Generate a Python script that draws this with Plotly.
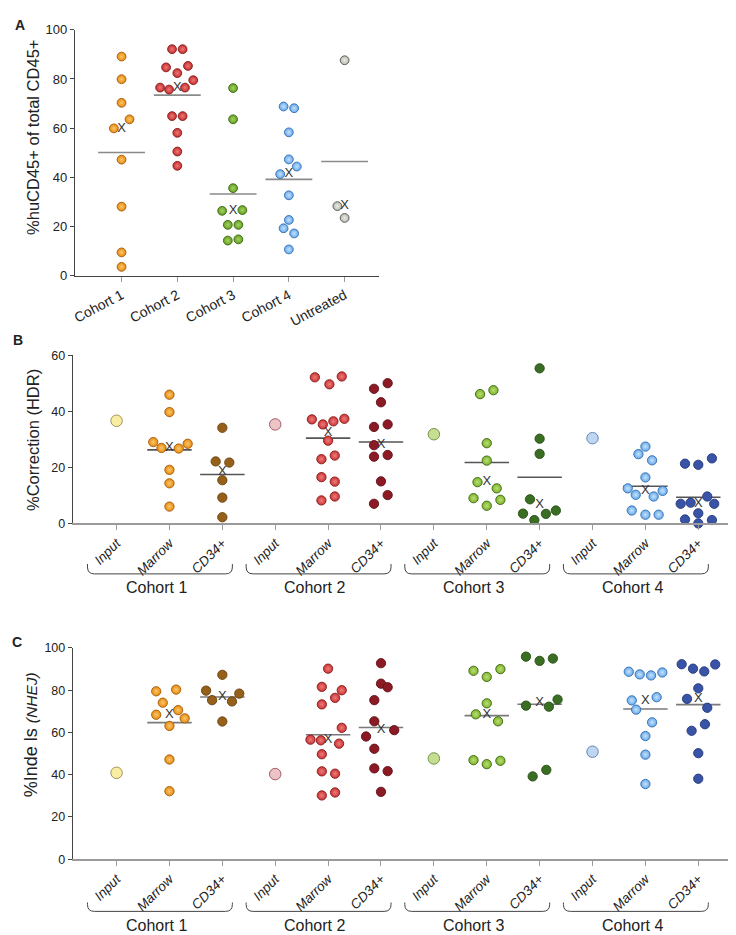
import numpy as np
import plotly.graph_objects as go

W, H = 736, 935
FONT = "Liberation Sans, Arial, sans-serif"

# ---------------- Panel A data ----------------
a_categories = ["Cohort 1", "Cohort 2", "Cohort 3", "Cohort 4", "Untreated"]
a_cohort1 = [89.1, 79.9, 70.3, 63.6, 59.9, 47.2, 28.1, 9.5, 3.6]
a_cohort2 = [92.1, 92.1, 84.7, 85.3, 82.4, 79.5, 76.5, 75.7, 76.5, 64.9, 64.9, 58.1, 50.5, 44.7]
a_cohort3 = [76.3, 63.6, 35.6, 26.4, 26.7, 20.7, 20.7, 14.3, 14.8]
a_cohort4 = [68.8, 68.1, 58.3, 47.3, 44.4, 41.3, 32.7, 22.7, 19.3, 17.2, 10.7]
a_untreated = [87.6, 28.3, 23.5]
a_yticks = [0, 20, 40, 60, 80, 100]

# ---------------- Panel B / C shared labels ----------------
sub_labels = ["Input", "Marrow", "CD34+"]
cohort_labels = ["Cohort 1", "Cohort 2", "Cohort 3", "Cohort 4"]

# ---------------- Panel B data (%Correction HDR) ----------------
hdr_input = [36.6, 35.3, 31.8, 30.4]
hdr_marrow_c1 = [45.9, 39.7, 29.0, 28.4, 26.9, 26.7, 19.1, 14.3, 6.0]
hdr_cd34_c1 = [34.1, 22.1, 21.7, 15.4, 9.2, 2.2]
hdr_marrow_c2 = [52.1, 49.6, 52.4, 37.1, 35.3, 36.4, 37.3, 29.5, 22.9, 24.2, 16.5, 14.9, 8.2, 9.6]
hdr_cd34_c2 = [48.0, 50.0, 43.2, 34.4, 35.3, 27.9, 24.4, 23.8, 15.0, 10.1, 7.0]
hdr_marrow_c3 = [46.1, 47.5, 28.6, 22.4, 14.7, 12.5, 9.0, 8.4, 6.3]
hdr_cd34_c3 = [55.3, 30.2, 24.8, 8.6, 3.5, 3.4, 4.6, 1.2]
hdr_marrow_c4 = [27.4, 24.7, 22.5, 16.4, 12.5, 11.6, 10.2, 9.6, 4.6, 3.1, 3.1]
hdr_cd34_c4 = [21.3, 20.9, 23.2, 9.6, 7.0, 7.4, 7.0, 3.6, 1.4, 1.2, 0.0]
b_yticks = [0, 20, 40, 60]

# ---------------- Panel C data (%Indels NHEJ) ----------------
nhej_input = [40.9, 40.3, 47.7, 50.9]
nhej_marrow_c1 = [79.5, 80.3, 74.1, 68.4, 70.6, 66.7, 63.1, 47.2, 32.2]
nhej_cd34_c1 = [87.3, 79.8, 78.4, 75.3, 74.7, 65.2]
nhej_marrow_c2 = [90.2, 81.6, 80.0, 76.4, 73.3, 62.2, 56.6, 56.3, 54.7, 49.7, 41.6, 40.5, 30.2, 31.6]
nhej_cd34_c2 = [92.8, 83.1, 81.4, 75.3, 65.3, 61.1, 58.1, 52.3, 43.0, 41.7, 31.9]
nhej_marrow_c3 = [89.2, 90.0, 86.3, 73.8, 68.6, 65.3, 46.9, 45.0, 46.6]
nhej_cd34_c3 = [95.9, 93.9, 95.0, 75.6, 72.7, 72.2, 39.2, 42.3]
nhej_marrow_c4 = [88.75, 87.5, 87.0, 88.4, 75.2, 76.7, 70.8, 64.8, 58.3, 49.5, 35.6]
nhej_cd34_c4 = [92.3, 90.2, 88.9, 92.2, 80.9, 75.9, 71.7, 63.9, 60.8, 50.2, 38.1]
c_yticks = [0, 20, 40, 60, 80, 100]

# ---------------- beeswarm horizontal offsets (pixels) ----------------
JIT_A = [
    [0, 0, 0, 8, -7.7, 0, 0, 0, 0],
    [-5.3, 5.3, -11.3, 10.7, 0, 16, -17.3, -8.3, 7.7, -5.3, 5.3, 0, 0, 0],
    [0, 0, 0, -11, 9.3, -5.3, 5.3, -5.3, 5.3],
    [-5.3, 5.3, 0, 0, 8, -8.7, 0, 0, -5.3, 5.3, 0],
    [0, -7.3, 0],
]
JIT_B = {
    "m1": [0, 0, -16.3, 18.3, -8, 9.3, 0, 0, 0],
    "c1": [0, -6.7, 7, 0, 0, 0],
    "m2": [-13.3, 1.3, 13.7, -16.3, -5.3, 5.3, 16.3, 0, -6.7, 6.7, -6.7, 6.7, -6.7, 6.7],
    "c2": [-7, 6.7, 0, -7, 6.7, -7, 6.7, -7, 0, 6.7, -7],
    "m3": [-6.7, 6.7, 0, 0, -9.3, 10, -13.3, 13.7, 0],
    "c3": [0, 0, 0, -9.7, -16.7, 6.3, 16.3, -5.3],
    "m4": [0, -7, 6.7, 0, -17.7, 17.3, -9.7, 8.3, -13.7, 0, 13.3],
    "c4": [-13.3, 0, 13.7, 9, -17.7, -7.7, 16, 0, -13.3, 13.7, 0],
}
JIT_C = {
    "m1": [-13.3, 6.7, -6.7, -13.3, 8.7, 15.3, 0, 0, 0],
    "c1": [0, -16.3, 17, -10.3, 9.7, 0],
    "m2": [0, -6.3, 13.7, 7, -6.3, 13.7, -17.7, -7.3, 11, -6.3, -6.3, 7, -6.3, 7],
    "c2": [0, 0, 6.7, -6.7, -6.7, 13.3, -15, -6.7, -6.7, 6.7, 0],
    "m3": [-13.3, 13.7, 0, 0, -11, 11.3, -13.3, 0, 13.7],
    "c3": [-13.7, 0, 13.3, 18, -13.7, 9.3, -7, 6.7],
    "m4": [-16.7, -5.7, 5.7, 17, -13.7, 11.3, -9.3, 6.7, 0, 0, 0],
    "c4": [-16.7, -5.3, 6, 17, 0, -11.3, 9, 6.7, -6.7, 0, 0],
}

# ---------------- styles ----------------
A_STYLE = [  # fill (rim), edge, centre (radial highlight)
    ("#E88A10", "#A55A08", "#FAC86A"),
    ("#C82E2E", "#861A1A", "#EC7878"),
    ("#62A022", "#3A6610", "#A8D262"),
    ("#6AA8E8", "#2E6DB4", "#C2E2FC"),
    ("#B6BAAD", "#555555", "#ECEDE6"),
]
INPUT_STYLE = [("#F8EEA2", "#9C8450"), ("#EDC4C6", "#99505A"),
               ("#C6DE92", "#6A8A3A"), ("#BED6F3", "#5A7AAA")]
MARROW_STYLE = [("#E88A10", "#A55A08", "#FAC86A"), ("#CC3434", "#861A1A", "#EE7C7C"),
                ("#7CB42C", "#3A6610", "#BCDE74"), ("#6AA8E8", "#2E6DB4", "#C4E4FC")]
CD34_STYLE = [("#966018", "#664010"), ("#8C1A24", "#601018"),
              ("#3A6E22", "#264E14"), ("#3953A6", "#24387A")]

# ---------------- geometry ----------------
A_X0, A_STEP, A_L, A_R = 111.0, 56.0, 64.0, 370.0
A_TOP, A_BOT = 15.0, 265.0
BC_X0, BC_STEP, BC_L, BC_R = 106.0, 53.1, 62.0, 735.0
B_TOP, B_BOT = 345.7, 516.7
C_TOP, C_BOT = 643.3, 858.0


def px_x(p):
    return p / W


def px_y(p):
    return 1 - p / H


fig = go.Figure()


def add_group(xa, ya, center, values, dx_px, step, fill, edge, centre=None,
              size=9.0, summary=True, line_color="#777777"):
    xs = [center + d / step for d in dx_px]
    if summary:
        m = float(np.mean(values))
        fig.add_trace(go.Scatter(
            x=[center - 0.42, center + 0.42], y=[m, m], mode="lines",
            line=dict(color=line_color, width=1.6), xaxis=xa, yaxis=ya,
            hoverinfo="skip", showlegend=False, cliponaxis=False))
    marker = dict(size=size, color=fill, line=dict(color=edge, width=0.9))
    if centre:
        marker["gradient"] = dict(type="radial", color=centre)
    fig.add_trace(go.Scatter(
        x=xs, y=values, mode="markers", marker=marker, xaxis=xa, yaxis=ya,
        showlegend=False, cliponaxis=False))
    if summary:
        med = float(np.median(values))
        fig.add_trace(go.Scatter(
            x=[center], y=[med], mode="text", text=["X"],
            textfont=dict(size=13, color="#333333", family=FONT),
            textposition="middle center", xaxis=xa, yaxis=ya,
            hoverinfo="skip", showlegend=False, cliponaxis=False))


# Panel A
a_groups = [a_cohort1, a_cohort2, a_cohort3, a_cohort4, a_untreated]
for i, vals in enumerate(a_groups):
    f, e, c = A_STYLE[i]
    add_group("x", "y", i, vals, JIT_A[i], A_STEP, f, e, c, size=8.8,
              line_color="#8a8a8a")

# Panels B and C
b_marrow = [hdr_marrow_c1, hdr_marrow_c2, hdr_marrow_c3, hdr_marrow_c4]
b_cd34 = [hdr_cd34_c1, hdr_cd34_c2, hdr_cd34_c3, hdr_cd34_c4]
c_marrow = [nhej_marrow_c1, nhej_marrow_c2, nhej_marrow_c3, nhej_marrow_c4]
c_cd34 = [nhej_cd34_c1, nhej_cd34_c2, nhej_cd34_c3, nhej_cd34_c4]

for xa, ya, inputs, marrows, cd34s, jit, lc in [
        ("x2", "y2", hdr_input, b_marrow, b_cd34, JIT_B, "#555555"),
        ("x3", "y3", nhej_input, c_marrow, c_cd34, JIT_C, "#7a7a7a")]:
    for k in range(4):
        base = 3 * k
        fi, ei = INPUT_STYLE[k]
        add_group(xa, ya, base, [inputs[k]], [0], BC_STEP, fi, ei, None,
                  size=11.5, summary=False)
        fm, em, cm = MARROW_STYLE[k]
        add_group(xa, ya, base + 1, marrows[k], jit["m%d" % (k + 1)], BC_STEP,
                  fm, em, cm, size=9.3, line_color=lc)
        fc, ec = CD34_STYLE[k]
        add_group(xa, ya, base + 2, cd34s[k], jit["c%d" % (k + 1)], BC_STEP,
                  fc, ec, None, size=9.3, line_color=lc)

# ---------------- axes ----------------
tickfont = dict(family=FONT, size=12.5, color="#222222")
catfont = dict(family=FONT, size=13.5, color="#222222")
common = dict(showgrid=False, zeroline=False, showline=True, ticks="outside",
              fixedrange=True)

a_range = [(A_L - A_X0) / A_STEP, (A_R - A_X0) / A_STEP]
bc_range = [(BC_L - BC_X0) / BC_STEP, (BC_R - BC_X0) / BC_STEP]
bc_ticktext = ["<i>%s</i>" % s for _ in range(4) for s in sub_labels]

fig.update_layout(
    width=W, height=H, margin=dict(l=0, r=0, t=0, b=0),
    paper_bgcolor="white", plot_bgcolor="white", showlegend=False,
    font=dict(family=FONT, color="#222222"),
    xaxis=dict(domain=[px_x(A_L), px_x(A_R)], range=a_range, anchor="y",
               tickvals=list(range(5)), ticktext=a_categories, tickangle=-28,
               linecolor="#444444", linewidth=1, ticklen=5, tickcolor="#999999",
               tickfont=dict(family=FONT, size=14, color="#222222"), **common),
    yaxis=dict(domain=[px_y(A_BOT), px_y(A_TOP)], range=[0, 100], anchor="x",
               tickvals=a_yticks, linecolor="#444444", linewidth=1, ticklen=4,
               tickcolor="#444444", tickfont=dict(family=FONT, size=13, color="#222222"),
               **common),
    xaxis2=dict(domain=[px_x(BC_L), px_x(BC_R)], range=bc_range, anchor="y2",
                tickvals=list(range(12)), ticktext=bc_ticktext, tickangle=-45,
                linecolor="#9a9a9a", linewidth=1.5, ticklen=5, tickcolor="#9a9a9a",
                tickfont=catfont, **common),
    yaxis2=dict(domain=[px_y(B_BOT), px_y(B_TOP)], range=[0, 60], anchor="x2",
                tickvals=b_yticks, linecolor="#444444", linewidth=1, ticklen=4,
                tickcolor="#444444", tickfont=tickfont, **common),
    xaxis3=dict(domain=[px_x(BC_L), px_x(BC_R)], range=bc_range, anchor="y3",
                tickvals=list(range(12)), ticktext=bc_ticktext, tickangle=-45,
                linecolor="#9a9a9a", linewidth=1.5, ticklen=5, tickcolor="#9a9a9a",
                tickfont=catfont, **common),
    yaxis3=dict(domain=[px_y(C_BOT), px_y(C_TOP)], range=[0, 100], anchor="x3",
                tickvals=c_yticks, linecolor="#444444", linewidth=1, ticklen=4,
                tickcolor="#444444", tickfont=tickfont, **common),
)

# ---------------- annotations ----------------
ann = []


def text_ann(txt, xp, yp, size, angle=0, bold=False, xanchor="center"):
    ann.append(dict(text=("<b>%s</b>" % txt) if bold else txt, x=px_x(xp), y=px_y(yp),
                    xref="paper", yref="paper", showarrow=False, textangle=angle,
                    xanchor=xanchor, yanchor="middle",
                    font=dict(family=FONT, size=size, color="#222222")))


text_ann("A", 9, 10, 14, bold=True)
text_ann("B", 7, 330, 14, bold=True)
text_ann("C", 6, 637, 14, bold=True)
text_ann("%huCD45+ of total CD45+", 22, 124, 16.5, angle=-90)
text_ann("%Correction (HDR)", 22, 432, 16.5, angle=-90)
ann.append(dict(text="%Inde ls <span style='font-size:15.5px'><i>(NHEJ)</i></span>",
                x=px_x(20), y=px_y(731), xref="paper", yref="paper", showarrow=False,
                textangle=-90, xanchor="center", yanchor="middle",
                font=dict(family=FONT, size=18, color="#222222")))

# brackets + cohort labels under panels B and C
shapes = []
for top, bot, lab_y in [(558.0, 568.0, 582.0), (902.0, 911.0, 925.0)]:
    for k in range(4):
        L = BC_X0 + BC_STEP * (3 * k - 0.55)
        R = BC_X0 + BC_STEP * (3 * k + 2 + 0.19)
        r = 7.0
        pts = [(L, top), (L, bot - r), (L, bot), (L + r, bot), (R - r, bot),
               (R, bot), (R, bot - r), (R, top)]
        P = [(px_x(a), px_y(b)) for a, b in pts]
        path = ("M %f,%f L %f,%f Q %f,%f %f,%f L %f,%f Q %f,%f %f,%f L %f,%f" %
                (P[0] + P[1] + P[2] + P[3] + P[4] + P[5] + P[6] + P[7]))
        shapes.append(dict(type="path", path=path, xref="paper", yref="paper",
                           line=dict(color="#444444", width=1)))
        text_ann(cohort_labels[k], BC_X0 + BC_STEP * (3 * k + 0.75), lab_y, 16)

fig.update_layout(annotations=ann, shapes=shapes)
fig.write_html("out.html")
